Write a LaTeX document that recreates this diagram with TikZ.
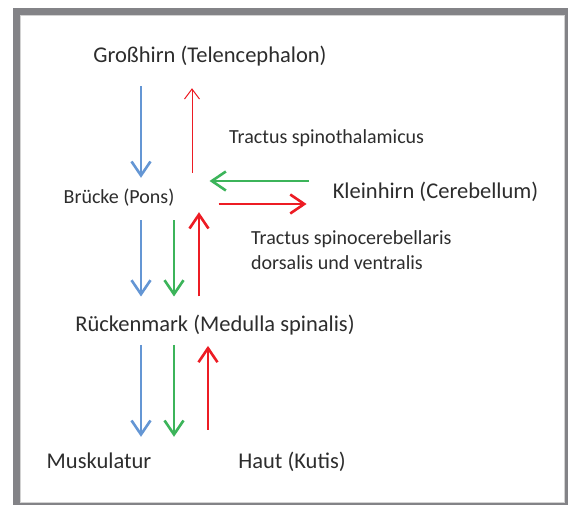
\documentclass[tikz,border=0pt]{standalone}
\usepackage{fontspec}
\setmainfont{Carlito}
\usepackage{xcolor}
\usepackage{tikz}
\usetikzlibrary{arrows.meta}
\definecolor{pathblue}{RGB}{100,150,212}
\definecolor{pathgreen}{RGB}{60,180,90}
\definecolor{pathred}{RGB}{237,28,36}
\definecolor{labelgray}{RGB}{45,45,45}
\definecolor{framegray}{RGB}{131,131,135}

\begin{document}
\begin{tikzpicture}[
        x=1pt, y=-1pt,
        big/.style={inner sep=0pt, anchor=base, text=labelgray, text height=16pt, text depth=5pt,
                    font=\fontsize{22.5}{27}\selectfont},
        small/.style={inner sep=0pt, anchor=base, text=labelgray, text height=14pt, text depth=4pt,
                    font=\fontsize{20}{25}\selectfont},
        tract/.style={inner sep=0pt, text=labelgray, align=left, font=\fontsize{20}{25}\selectfont},
        bluepath/.style={draw=pathblue, line width=2.6pt, -{Straight Barb[length=14pt, width=19pt]}},
        greenpath/.style={draw=pathgreen, line width=2.6pt, -{Straight Barb[length=14pt, width=19pt]}},
        redpath/.style={draw=pathred, line width=2.6pt, -{Straight Barb[length=14pt, width=19pt]}},
        redthin/.style={draw=pathred, line width=1pt, -{Straight Barb[length=10pt, width=15pt]}}
      ]
        \useasboundingbox (0,0) rectangle (568,505);
        \fill[framegray] (13,8) rectangle (568,505);
        \fill[white] (20,15) rectangle (565,503);
        \draw[gray!35, line width=1pt] (20.5,15.5) rectangle (564.5,502.5);

        \node[big] (gross) at (210,63) {Großhirn (Telencephalon)};
        \node[small] (bruecke) at (119,204) {Brücke (Pons)};
        \node[big] (klein) at (435.5,198.3) {Kleinhirn (Cerebellum)};
        \node[big] (rueck) at (215,331.7) {Rückenmark (Medulla spinalis)};
        \node[big] (musk) at (99,468) {Muskulatur};
        \node[big] (haut) at (292,468) {Haut (Kutis)};
        \node[small, anchor=base west] (spth) at (229,143.3) {Tractus spinothalamicus};
        \node[tract, anchor=north west] (spcb) at (251,230)
              {Tractus spinocerebellaris\\dorsalis und ventralis};

        \coordinate (laneB) at (141,0);
        \coordinate (laneG) at (174,0);
        \coordinate (laneT) at (192,0);
        \coordinate (laneR) at (199,0);
        \coordinate (laneH) at (208,0);
        \coordinate (rowG) at (0,181);
        \coordinate (rowR) at (0,204);

        \draw[bluepath, shorten <=18pt, shorten >=12pt] (laneB |- gross.south) -- (laneB |- bruecke.north);
        \draw[redthin, shorten <=17pt, shorten >=20pt] (laneT |- bruecke.north) -- (laneT |- gross.south);
        \draw[greenpath, shorten <=24pt, shorten >=35pt] (klein.west |- rowG) -- (bruecke.east |- rowG);
        \draw[redpath, shorten <=44pt, shorten >=26pt] (bruecke.east |- rowR) -- (klein.west |- rowR);
        \draw[bluepath, shorten <=12pt, shorten >=19pt] (laneB |- bruecke.south) -- (laneB |- rueck.north);
        \draw[greenpath, shorten <=12pt, shorten >=19pt] (laneG |- bruecke.south) -- (laneG |- rueck.north);
        \draw[redpath, shorten <=19pt, shorten >=4pt] (laneR |- rueck.north) -- (laneR |- bruecke.south);
        \draw[bluepath, shorten <=8pt, shorten >=15pt] (laneB |- rueck.south) -- (laneB |- musk.north);
        \draw[greenpath, shorten <=8pt, shorten >=15pt] (laneG |- rueck.south) -- (laneG |- musk.north);
        \draw[redpath, shorten <=22pt, shorten >=9pt] (laneH |- haut.north) -- (laneH |- rueck.south);
      \end{tikzpicture}
\end{document}
